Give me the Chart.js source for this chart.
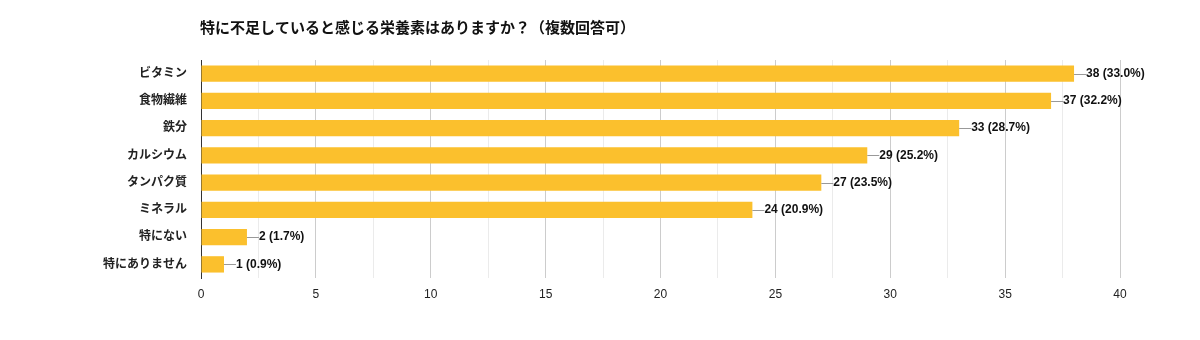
<!DOCTYPE html>
<html>
<head>
<meta charset="utf-8">
<script src="https://cdn.jsdelivr.net/npm/chart.js@4"></script>
<style>
  html, body { margin: 0; padding: 0; background: #fff; }
  #wrap { width: 1200px; height: 340px; }
</style>
</head>
<body>
<div id="wrap"><canvas id="nutrientChart"></canvas></div>
<script>
const title = "特に不足していると感じる栄養素はありますか？（複数回答可）";
const categories = ["ビタミン", "食物繊維", "鉄分", "カルシウム", "タンパク質", "ミネラル", "特にない", "特にありません"];
const counts = [38, 37, 33, 29, 27, 24, 2, 1];
const percents = ["33.0%", "32.2%", "28.7%", "25.2%", "23.5%", "20.9%", "1.7%", "0.9%"];
const tickValues = [0, 5, 10, 15, 20, 25, 30, 35, 40];

const FONT = "'Liberation Sans', 'Noto Sans CJK JP', Arial, sans-serif";
Chart.defaults.font.family = FONT;
Chart.defaults.color = "#222";

// title + value labels with short leader lines
const labelPlugin = {
  id: "labels",
  afterDatasetsDraw(chart) {
    const ctx = chart.ctx;
    ctx.save();
    ctx.fillStyle = "#111";
    ctx.font = "bold 15px " + FONT;
    ctx.textBaseline = "middle";
    ctx.textAlign = "left";
    ctx.fillText(title, 200, 29);

    const meta = chart.getDatasetMeta(0);
    ctx.font = "bold 12px " + FONT;
    meta.data.forEach((bar, i) => {
      ctx.strokeStyle = "#999";
      ctx.lineWidth = 1;
      ctx.beginPath();
      ctx.moveTo(bar.x, Math.round(bar.y) + 0.5);
      ctx.lineTo(bar.x + 12, Math.round(bar.y) + 0.5);
      ctx.stroke();
      ctx.fillText(counts[i] + " (" + percents[i] + ")", bar.x + 12, bar.y);
    });
    ctx.restore();
  }
};

new Chart(document.getElementById("nutrientChart"), {
  type: "bar",
  data: {
    labels: categories,
    datasets: [{
      data: counts,
      backgroundColor: "#fbc02d",
      barPercentage: 0.6,
      categoryPercentage: 1
    }]
  },
  options: {
    indexAxis: "y",
    responsive: true,
    maintainAspectRatio: false,
    animation: false,
    layout: { padding: { top: 60, right: 80, left: 0, bottom: 0 } },
    plugins: {
      legend: { display: false },
      tooltip: { enabled: false }
    },
    scales: {
      x: {
        min: 0,
        max: 40,
        afterFit(scale) { scale.height = 62; },
        afterBuildTicks(scale) {
          const t = [];
          for (let v = 0; v <= 40; v += 2.5) t.push({ value: v });
          scale.ticks = t;
        },
        border: { display: false },
        grid: {
          drawTicks: false,
          color: c => (c.tick && c.tick.value % 5 === 0) ? "#cccccc" : "#ebebeb"
        },
        ticks: {
          padding: 9,
          font: { size: 12 },
          color: "#222",
          autoSkip: false,
          maxRotation: 0,
          callback: v => tickValues.includes(v) ? String(v) : ""
        }
      },
      y: {
        afterFit(scale) { scale.width = 201; },
        border: { display: true, color: "#333", width: 1 },
        grid: { display: false, drawTicks: false },
        ticks: {
          padding: 14,
          font: { size: 12, weight: "bold" },
          color: "#222"
        }
      }
    }
  },
  plugins: [labelPlugin]
});
</script>
</body>
</html>
